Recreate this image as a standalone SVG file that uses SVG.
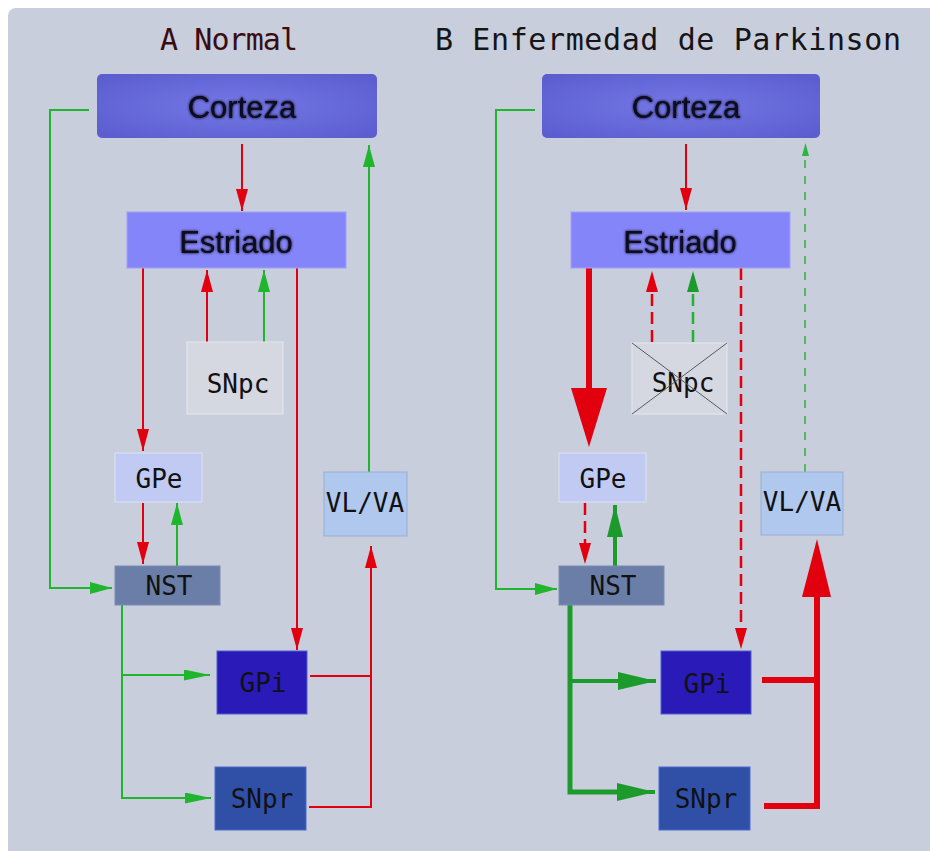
<svg xmlns="http://www.w3.org/2000/svg" width="930" height="851" viewBox="0 0 930 851">
<defs>
<radialGradient id="gCor" cx="50%" cy="50%" r="65%">
<stop offset="0" stop-color="#7477e6"/>
<stop offset="1" stop-color="#5c5ecf"/>
</radialGradient>
<filter id="shadow" x="-10%" y="-30%" width="120%" height="160%">
<feGaussianBlur in="SourceAlpha" stdDeviation="1.8" result="b"/>
<feMerge><feMergeNode in="b"/><feMergeNode in="SourceGraphic"/></feMerge>
</filter>
<marker id="aR" markerUnits="userSpaceOnUse" markerWidth="22" markerHeight="12" viewBox="0 0 22 12" refX="22" refY="6" orient="auto"><path d="M0,0 L22,6 L0,12 z" fill="#e2000f"/></marker>
<marker id="aG" markerUnits="userSpaceOnUse" markerWidth="22" markerHeight="12" viewBox="0 0 22 12" refX="22" refY="6" orient="auto"><path d="M0,0 L22,6 L0,12 z" fill="#1fb52c"/></marker>
<marker id="aGh" markerUnits="userSpaceOnUse" markerWidth="26" markerHeight="11" viewBox="0 0 26 11" refX="26" refY="5.5" orient="auto"><path d="M0,0 L26,5.5 L0,11 z" fill="#1fb52c"/></marker>
<marker id="aGT" markerUnits="userSpaceOnUse" markerWidth="38" markerHeight="18" viewBox="0 0 38 18" refX="38" refY="9" orient="auto"><path d="M0,0 L38,9 L0,18 z" fill="#1c9a2c"/></marker>
<marker id="aGU" markerUnits="userSpaceOnUse" markerWidth="32" markerHeight="16" viewBox="0 0 32 16" refX="32" refY="8" orient="auto"><path d="M0,0 L32,8 L0,16 z" fill="#1c9a2c"/></marker>
</defs>
<style>
.title{font-family:"DejaVu Sans Mono","Liberation Mono",monospace;font-size:30px}
.big{font-family:"Liberation Sans",Arial,sans-serif;font-size:31px;fill:#08081c;text-anchor:middle}
.lbl{font-family:"DejaVu Sans Mono","Liberation Mono",monospace;font-size:26px;fill:#111;text-anchor:middle}
.r{stroke:#e2000f;stroke-width:2;fill:none}
.g{stroke:#1fb52c;stroke-width:2;fill:none}
.rd{stroke:#e2000f;stroke-width:2.5;fill:none;stroke-dasharray:12 6}
.gd{stroke:#1fb52c;stroke-width:2.5;fill:none;stroke-dasharray:12 6}
.gdt{stroke:#2bb53a;stroke-width:1.5;fill:none;stroke-dasharray:8 8}
.rT{stroke:#e2000f;stroke-width:6;fill:none}
.gT{stroke:#1c9a2c;stroke-width:5;fill:none}
.gM{stroke:#1c9a2c;stroke-width:4;fill:none}
</style>
<rect x="0" y="0" width="930" height="851" fill="#ffffff"/>
<rect x="8" y="8" width="940" height="860" rx="8" fill="#c8cedb"/>

<text class="title" x="160" y="50" fill="#3a0c12" textLength="138" lengthAdjust="spacing">A Normal</text>
<text class="title" x="435" y="50" fill="#151518" textLength="466" lengthAdjust="spacing">B Enfermedad de Parkinson</text>

<g id="connectors">
<!-- Panel A -->
<path class="g" d="M89,110 H50 V588 H112" marker-end="url(#aG)"/>
<path class="r" d="M242,144 V211" marker-end="url(#aR)"/>
<path class="r" d="M143,268 V451" marker-end="url(#aR)"/>
<path class="r" d="M297,268 V650" marker-end="url(#aR)"/>
<path class="r" d="M207,342 V270" marker-end="url(#aR)"/>
<path class="g" d="M264,342 V270" marker-end="url(#aG)"/>
<path class="r" d="M143,503 V564" marker-end="url(#aR)"/>
<path class="g" d="M177,566 V503" marker-end="url(#aG)"/>
<path class="g" d="M122,605 V798 H211" marker-end="url(#aGh)"/>
<path class="g" d="M122,675 H210" marker-end="url(#aGh)"/>
<path class="r" d="M310,676 H371"/>
<path class="r" d="M309,807 H371 V546" marker-end="url(#aR)"/>
<path class="g" d="M369,472 V145" marker-end="url(#aG)"/>
<!-- Panel B -->
<path class="g" d="M535,110 H496 V589 H557" marker-end="url(#aG)"/>
<path class="r" d="M686,144 V210" marker-end="url(#aR)"/>
<path class="rT" d="M589,268 V392"/>
<polygon points="571,388 607,388 589,447" fill="#e2000f"/>
<path class="rd" d="M652,342 V275"/>
<path d="M646,292 L652,271 L658,292 z" fill="#e2000f"/>
<path class="gd" d="M693,342 V275"/>
<path d="M687,292 L693,271 L699,292 z" fill="#1c9a2c"/>
<path class="rd" d="M741,268 V640"/>
<path d="M735,628 L741,649 L747,628 z" fill="#e2000f"/>
<path class="rd" d="M585,503 V556"/>
<path d="M579,543 L585,564 L591,543 z" fill="#e2000f"/>
<path class="gM" d="M615,566 V505" marker-end="url(#aGU)"/>
<path class="gT" d="M570,605 V792 H620"/>
<path class="gM" d="M572,792 H655" marker-end="url(#aGT)"/>
<path class="gM" d="M570,681 H656" marker-end="url(#aGT)"/>
<path class="rT" d="M762,680 H817"/>
<path class="rT" d="M764,806 H817 V594"/>
<polygon points="802,597 831,597 817,539" fill="#e2000f"/>
<path class="gdt" d="M805,472 V150"/>
<path d="M802,156 L805.5,143 L809,156 z" fill="#2bb53a"/>
</g>

<g id="cortezaA">
<rect x="97" y="74" width="280" height="64" rx="5" fill="url(#gCor)"/>
<text class="big" x="242" y="118" filter="url(#shadow)">Corteza</text>
</g>
<g id="estriadoA">
<rect x="127" y="212" width="219" height="56" fill="#8585fa" stroke="#a0a0fc" stroke-width="1"/>
<text class="big" x="236" y="253" filter="url(#shadow)">Estriado</text>
</g>
<g id="snpcA">
<rect x="187" y="342" width="96" height="72" fill="#d5d7e1" stroke="#e6e8ee" stroke-width="1"/>
<text class="lbl" x="238" y="393">SNpc</text>
</g>
<g id="gpeA">
<rect x="115" y="453" width="87" height="49" fill="#c0caf2" stroke="#dde2f8" stroke-width="1"/>
<text class="lbl" x="159" y="488">GPe</text>
</g>
<g id="nstA">
<rect x="115" y="566" width="105" height="39" fill="#6a7ea8" stroke="#7a8cb4" stroke-width="1"/>
<text class="lbl" x="169" y="595">NST</text>
</g>
<g id="vlvaA">
<rect x="324" y="472" width="83" height="64" fill="#b0c8ee" stroke="#98aed4" stroke-width="1"/>
<text class="lbl" x="365" y="512">VL/VA</text>
</g>
<g id="gpiA">
<rect x="217" y="651" width="90" height="63" fill="#2a1ab8" stroke="#4d5cd6" stroke-width="1"/>
<text class="lbl" x="263" y="692">GPi</text>
</g>
<g id="snprA">
<rect x="215" y="767" width="91" height="63" fill="#3050a8" stroke="#4a6ad0" stroke-width="1"/>
<text class="lbl" x="262" y="808">SNpr</text>
</g>

<g id="cortezaB">
<rect x="542" y="74" width="278" height="64" rx="5" fill="url(#gCor)"/>
<text class="big" x="686" y="118" filter="url(#shadow)">Corteza</text>
</g>
<g id="estriadoB">
<rect x="571" y="212" width="219" height="56" fill="#8585fa" stroke="#a0a0fc" stroke-width="1"/>
<text class="big" x="680" y="253" filter="url(#shadow)">Estriado</text>
</g>
<g id="snpcB">
<rect x="632" y="343" width="95" height="71" fill="#d5d7e1" stroke="#e6e8ee" stroke-width="1"/>
<text class="lbl" x="683" y="392">SNpc</text>
<path d="M632,343 L727,414 M632,414 L727,343" stroke="#555a66" stroke-width="1" fill="none"/>
</g>
<g id="gpeB">
<rect x="559" y="453" width="87" height="49" fill="#c0caf2" stroke="#dde2f8" stroke-width="1"/>
<text class="lbl" x="603" y="488">GPe</text>
</g>
<g id="nstB">
<rect x="559" y="566" width="105" height="39" fill="#6a7ea8" stroke="#7a8cb4" stroke-width="1"/>
<text class="lbl" x="613" y="595">NST</text>
</g>
<g id="vlvaB">
<rect x="761" y="472" width="82" height="63" fill="#b0c8ee" stroke="#98aed4" stroke-width="1"/>
<text class="lbl" x="802" y="511">VL/VA</text>
</g>
<g id="gpiB">
<rect x="661" y="651" width="90" height="63" fill="#2a1ab8" stroke="#4d5cd6" stroke-width="1"/>
<text class="lbl" x="707" y="693">GPi</text>
</g>
<g id="snprB">
<rect x="659" y="767" width="91" height="63" fill="#3050a8" stroke="#4a6ad0" stroke-width="1"/>
<text class="lbl" x="706" y="808">SNpr</text>
</g>
</svg>
